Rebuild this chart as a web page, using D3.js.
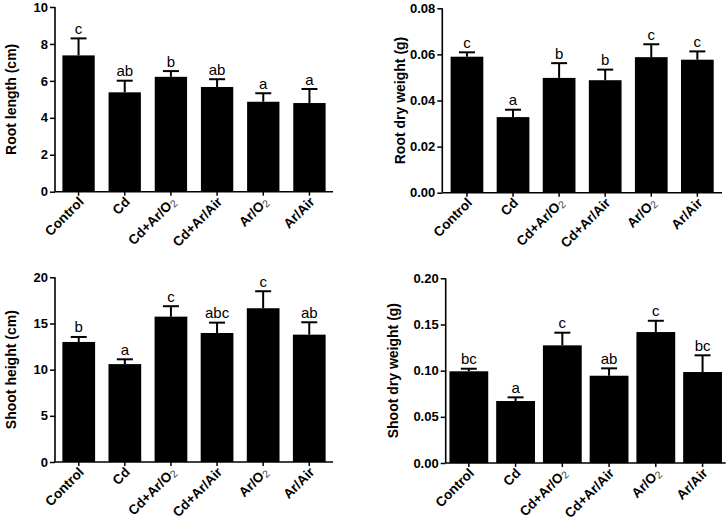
<!DOCTYPE html>
<html><head><meta charset="utf-8">
<script src="https://cdn.jsdelivr.net/npm/d3@7"></script>
<style>body{margin:0;background:#fff}svg{display:block}text{font-family:"Liberation Sans",Arial,sans-serif}</style>
</head><body>
<svg id="c" width="728" height="523"></svg>
<script>
const categories = ["Control","Cd","Cd+Ar/O2","Cd+Ar/Air","Ar/O2","Ar/Air"];

const rootLength = [7.38, 5.38, 6.22, 5.67, 4.87, 4.80];
const rootLengthErr = [0.92, 0.63, 0.31, 0.42, 0.46, 0.76];
const rootLengthLetters = ["c","ab","b","ab","a","a"];
const rootLengthTicks = [0,2,4,6,8,10];

const rootDry = [0.0590, 0.0328, 0.0498, 0.0488, 0.0588, 0.0577];
const rootDryErr = [0.0019, 0.0032, 0.0064, 0.0046, 0.0056, 0.0036];
const rootDryLetters = ["c","a","b","b","c","c"];
const rootDryTicks = [0,0.02,0.04,0.06,0.08];

const shootHeight = [13.0, 10.6, 15.74, 13.97, 16.65, 13.79];
const shootHeightErr = [0.54, 0.52, 1.13, 1.12, 1.84, 1.34];
const shootHeightLetters = ["b","a","c","abc","c","ab"];
const shootHeightTicks = [0,5,10,15,20];

const shootDry = [0.0993, 0.0671, 0.1274, 0.0945, 0.1418, 0.0985];
const shootDryErr = [0.0028, 0.0040, 0.0137, 0.0080, 0.0122, 0.0181];
const shootDryLetters = ["bc","a","c","ab","c","bc"];
const shootDryTicks = [0,0.05,0.10,0.15,0.20];

const panels = [
  {vals: rootLength, err: rootLengthErr, letters: rootLengthLetters, ticks: rootLengthTicks, max: 10, fmt: d3.format("d"),
   title: "Root length (cm)", x0: 55, x1: 333, yT: 7, yB: 191.7, tx: 11, pi: 0.3, po: 0.16},
  {vals: rootDry, err: rootDryErr, letters: rootDryLetters, ticks: rootDryTicks, max: 0.08, fmt: d3.format(".2f"),
   title: "Root dry weight (g)", x0: 442.3, x1: 722, yT: 8.3, yB: 192.7, tx: 400, pi: 0.29, po: 0.18},
  {vals: shootHeight, err: shootHeightErr, letters: shootHeightLetters, ticks: shootHeightTicks, max: 20, fmt: d3.format("d"),
   title: "Shoot height (cm)", x0: 55, x1: 333, yT: 277.3, yB: 462, tx: 11, pi: 0.29, po: 0.16},
  {vals: shootDry, err: shootDryErr, letters: shootDryLetters, ticks: shootDryTicks, max: 0.20, fmt: d3.format(".2f"),
   title: "Shoot dry weight (g)", x0: 445.7, x1: 725.7, yT: 278.3, yB: 463, tx: 393, pi: 0.17, po: 0.08}
];

const svg = d3.select("#c");

function addLabel(sel, name) {
  const m = name.match(/^(.*O)2$/);
  if (m) {
    sel.append("tspan").text(m[1]);
    sel.append("tspan").attr("font-size", 10.5).attr("font-weight", "normal").attr("fill", "#444").attr("dy", 2).text("2");
  } else sel.text(name);
}

panels.forEach(p => {
  const g = svg.append("g");
  const x = d3.scaleBand().domain(categories).range([p.x0, p.x1]).paddingInner(p.pi).paddingOuter(p.po);
  const y = d3.scaleLinear().domain([0, p.max]).range([p.yB, p.yT]);
  const data = categories.map((c, i) => ({c, v: p.vals[i], e: p.err[i], l: p.letters[i]}));

  // bars
  g.selectAll("rect.bar").data(data).join("rect")
    .attr("x", d => x(d.c)).attr("width", x.bandwidth())
    .attr("y", d => y(d.v)).attr("height", d => y(0) - y(d.v))
    .attr("fill", "#000");

  // error bars
  const cap = 8;
  g.selectAll("line.ev").data(data).join("line")
    .attr("x1", d => x(d.c) + x.bandwidth()/2).attr("x2", d => x(d.c) + x.bandwidth()/2)
    .attr("y1", d => y(d.v)).attr("y2", d => y(d.v + d.e))
    .attr("stroke", "#000").attr("stroke-width", 2);
  g.selectAll("line.ec").data(data).join("line")
    .attr("x1", d => x(d.c) + x.bandwidth()/2 - cap).attr("x2", d => x(d.c) + x.bandwidth()/2 + cap)
    .attr("y1", d => y(d.v + d.e)).attr("y2", d => y(d.v + d.e))
    .attr("stroke", "#000").attr("stroke-width", 2);

  // letters
  g.selectAll("text.let").data(data).join("text")
    .attr("x", d => x(d.c) + x.bandwidth()/2).attr("y", d => y(d.v + d.e) - 4.5)
    .attr("text-anchor", "middle").attr("font-size", 15).attr("fill", "#000")
    .text(d => d.l);

  // y axis
  const ya = g.append("g").attr("transform", `translate(${p.x0},0)`)
    .call(d3.axisLeft(y).tickValues(p.ticks).tickFormat(p.fmt).tickSize(5).tickPadding(2));
  ya.select(".domain").attr("stroke-width", 1.6).attr("d", `M0,${p.yT}V${p.yB}`);
  ya.selectAll(".tick line").attr("stroke-width", 1.5);
  ya.selectAll(".tick text").attr("font-size", 13).attr("font-weight", "bold").attr("fill", "#000")
    .attr("font-family", '"Liberation Sans",Arial,sans-serif');

  // x axis
  const xa = g.append("g").attr("transform", `translate(0,${p.yB})`)
    .call(d3.axisBottom(x).tickSize(4).tickFormat(""));
  xa.select(".domain").attr("stroke-width", 1.6).attr("d", `M${p.x0},0H${p.x1}`);
  xa.selectAll(".tick line").attr("stroke-width", 1.5);

  g.selectAll("text.xl").data(categories).join("text")
    .attr("transform", c => `translate(${x(c) + x.bandwidth()/2 + 6},${p.yB + 11}) rotate(-45)`)
    .attr("text-anchor", "end").attr("font-size", 13.5).attr("font-weight", "bold").attr("fill", "#000")
    .each(function(c){ addLabel(d3.select(this), c); });

  // y title
  g.append("text")
    .attr("transform", `translate(${p.tx},${(p.yT + p.yB)/2}) rotate(-90)`)
    .attr("text-anchor", "middle").attr("dominant-baseline", "central")
    .attr("font-size", 14).attr("font-weight", "bold").attr("fill", "#000")
    .text(p.title);
});
</script>
</body></html>
